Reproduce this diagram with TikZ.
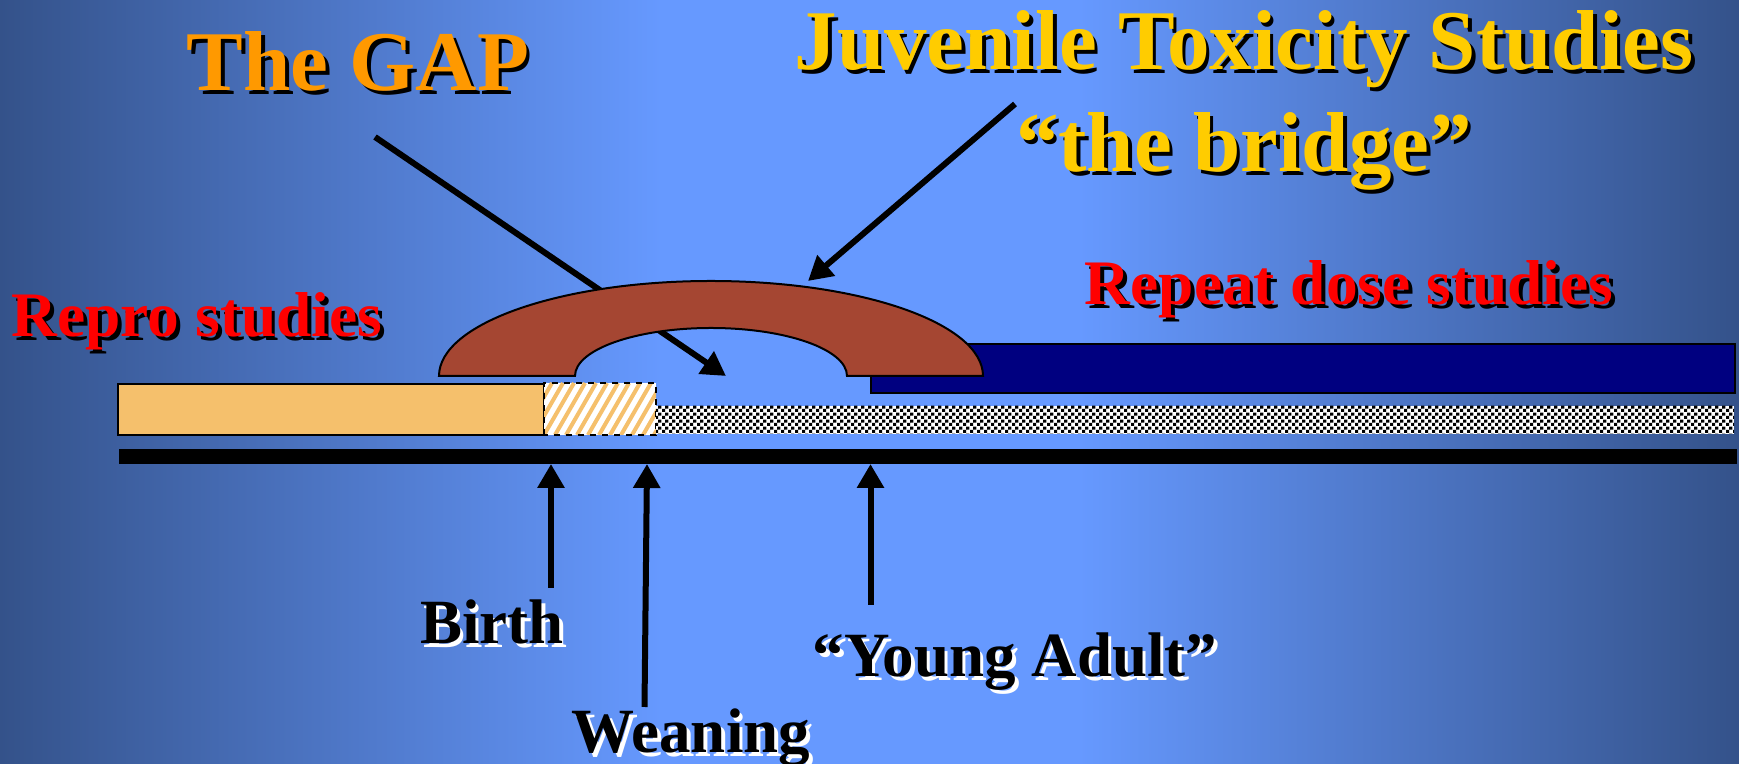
\documentclass[tikz,border=0pt]{standalone}
\usepackage{fontspec}
\setmainfont{Liberation Serif}
\usepackage{tikz}
\usetikzlibrary{
  arrows.meta,
  positioning,
  patterns
}
\definecolor{bgdark}{RGB}{52,82,138}
\definecolor{bglight}{RGB}{102,153,255}
\definecolor{gaporange}{RGB}{255,153,0}
\definecolor{juvgold}{RGB}{255,204,0}
\definecolor{studyred}{RGB}{255,0,0}
\definecolor{bridgebrown}{RGB}{165,70,50}
\definecolor{reprotan}{RGB}{245,192,108}
\definecolor{dosenavy}{RGB}{0,0,128}

\pgfdeclarehorizontalshading{slideshade}{100bp}{color(0bp)=(bgdark); color(25bp)=(bgdark); color(44bp)=(bglight); color(56bp)=(bglight); color(75bp)=(bgdark); color(100bp)=(bgdark)}

\pgfdeclarepatternformonly{bardots}{\pgfqpoint{0pt}{0pt}}{\pgfqpoint{3.6pt}{3.6pt}}{\pgfqpoint{3.6pt}{3.6pt}}{%
  \pgfpathrectangle{\pgfqpoint{0pt}{0pt}}{\pgfqpoint{1.7pt}{1.7pt}}%
  \pgfpathrectangle{\pgfqpoint{1.8pt}{1.8pt}}{\pgfqpoint{1.7pt}{1.7pt}}%
  \pgfusepath{fill}}

\newcommand{\dropshadow}[2]{\makebox[0pt][l]{\kern1.8pt\raisebox{-1.8pt}{\textcolor{#1}{#2}}}#2}

\begin{document}
\begin{tikzpicture}[x=0.5pt, y=0.5pt,
  bigtitle/.style={font=\fontsize{42.5}{50}\selectfont\bfseries, inner sep=0pt, anchor=base},
  studylabel/.style={font=\fontsize{31.7}{38}\selectfont\bfseries, text=studyred, inner sep=0pt, anchor=base},
  agelabel/.style={font=\fontsize{31.5}{38}\selectfont\bfseries, inner sep=0pt, anchor=base},
  bararrow/.style={-{Triangle[length=12pt, width=13pt]}, line width=3pt}]
  \useasboundingbox (0,0) rectangle (1739,764);
  \shade[shading=slideshade] (0,0) rectangle (1739,764);

  % gap arrow runs behind the bridge
  \coordinate (gaptail) at (375,627);
  \coordinate (gaptip) at (726,388);
  \draw[bararrow] (gaptail) -- (gaptip);

  \draw[fill=dosenavy, line width=1pt] (871,371) rectangle (1735,420);
  \draw[fill=bridgebrown, line width=1pt] (439,388)
    arc[start angle=180, end angle=0, x radius=136pt, y radius=47.5pt] -- (847,388)
    arc[start angle=0, end angle=180, x radius=68pt, y radius=24pt] -- cycle;

  % age bars
  \draw[fill=reprotan, line width=0.8pt] (118,329) rectangle (544,380);
  \begin{scope}
    \clip (544,329) rectangle (656,381);
    \fill[white] (544,329) rectangle (656,381);
    \foreach \sx in {500,511,...,660}
      \draw[reprotan, line width=2pt] (\sx,329) -- ++(30,52);
  \end{scope}
  \draw[dashed, line width=0.8pt] (544,329) rectangle (656,381);
  \fill[white] (656,330) rectangle (1734,358);
  \fill[pattern=bardots] (656,330) rectangle (1734,358);
  \fill (119,300) rectangle (1737,315);

  \node[bigtitle, text=gaporange] (gap) at (358,673) {\dropshadow{black}{The GAP}};
  \node[bigtitle, text=juvgold] (juvenile) at (1244,694) {\dropshadow{black}{Juvenile Toxicity Studies}};
  \node[bigtitle, text=juvgold] (bridge) at (1244,592) {\dropshadow{black}{“the bridge”}};
  \node[studylabel] (repro) at (197,427) {\dropshadow{black}{Repro studies}};
  \node[studylabel] (repeat) at (1349,459) {\dropshadow{black}{Repeat dose studies}};
  \node[agelabel] (birth) at (492,120) {\dropshadow{white}{Birth}};
  \node[agelabel] (weaning) at (691,11) {\dropshadow{white}{Weaning}};
  \node[agelabel] (young) at (1015,87) {\dropshadow{white}{“Young Adult”}};

  \coordinate (bridgetail) at (1015,660);
  \coordinate (bridgetip) at (808,483);
  \draw[bararrow] (bridgetail) -- (bridgetip);

  % timeline markers
  \coordinate (birthtail) at (551,176);
  \coordinate (birthtip) at (551,300);
  \coordinate (weaningtail) at (644.5,57);
  \coordinate (weaningtip) at (647,300);
  \coordinate (youngtail) at (870.5,159);
  \coordinate (youngtip) at (870.5,300);
  \draw[bararrow] (birthtail) -- (birthtip);
  \draw[bararrow] (weaningtail) -- (weaningtip);
  \draw[bararrow] (youngtail) -- (youngtip);
\end{tikzpicture}
\end{document}
